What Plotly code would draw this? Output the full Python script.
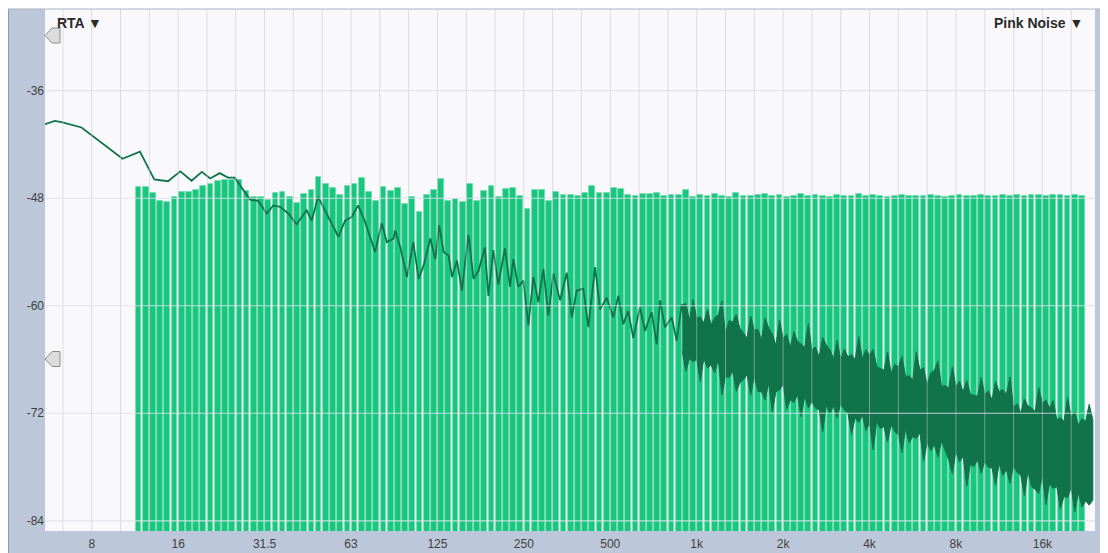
import numpy as np
import plotly.graph_objects as go

# ---------------- data ----------------
# 1/12-octave band levels (dB), first band index -78 relative to 1 kHz (132 bands)
band_first_index = -78
band_levels = [
    -46.7, -46.7, -47.45, -48.27, -48.42, -47.82, -47.3, -47.3, -47.08, -46.63,
    -46.45, -46.11, -45.96, -45.96, -45.96, -47.15, -47.82, -47.82, -48.2, -47.45,
    -47.34, -47.9, -48.5, -47.56, -47.08, -45.6, -46.41, -46.89, -47.64, -46.6,
    -46.45, -45.7, -47.34, -48.27, -46.71, -47.19, -46.82, -48.64, -47.82, -49.5,
    -47.64, -47.08, -45.85, -48.27, -48.12, -48.38, -46.45, -48.27, -47.19, -46.64,
    -47.83, -46.97, -46.82, -47.75, -49.24, -47.08, -47.08, -48.27, -47.34, -47.64,
    -47.64, -47.75, -47.45, -46.64, -47.45, -47.45, -46.82, -46.97, -47.64, -47.75,
    -47.53, -47.53, -47.45, -47.75, -47.64, -47.64, -47.08, -47.9,
    -47.6, -47.8, -47.5, -47.7, -47.9, -47.4, -47.7, -47.8, -47.6, -47.5,
    -47.8, -47.6, -47.9, -47.7, -47.5, -47.8, -47.6, -47.7, -47.9, -47.6,
    -47.8, -47.7, -47.5, -47.8, -47.6, -47.7, -47.9, -47.7, -47.6, -47.8,
    -47.7, -47.8, -47.6, -47.7, -47.9, -47.7, -47.6, -47.8, -47.7, -47.6,
    -47.7, -47.8, -47.6, -47.7, -47.6, -47.7, -47.6, -47.6, -47.7, -47.6,
    -47.6, -47.7, -47.6, -47.8,
]

# FFT trace (low / mid frequencies)
line_freq = [
    5.37, 5.81, 6.13, 7.20, 10.0, 11.5, 12.9, 14.4, 15.9, 17.4, 18.9, 20.2, 21.8, 23.3, 24.6,
    27.8, 29.7, 31.8, 33.5, 35.4, 37.8, 40.4, 43.8, 45.6, 48.0, 51.5, 56.5, 59.6, 62.8, 66.2,
    69.9, 75.8, 80.0, 83.3, 87.9, 89.1, 92.8, 97.9, 103, 107.5, 111.9, 118.1, 122.9, 126.8,
    131.3, 136.7, 140.5, 146.2, 152.2, 156.2, 160.4, 166.9, 173.8, 183.0, 188.0, 195.7, 203.7,
    214.9, 223.8, 229.7, 239.1, 249.0, 259.2, 269.8, 280.9, 292.4, 304.3, 316.8, 334.3, 352.7,
    367.2, 382.1, 402.9, 419.4, 442.6, 460.6, 485.9, 512.2, 533.2, 554.8, 577.6, 601.2, 634.4,
    660.7, 697.0, 725.5, 745.1, 775.5, 818.4, 851.8, 886.7, 934.9,
]
line_db = [
    -39.74, -39.36, -39.5, -40.1, -43.6, -42.8, -45.9, -46.1, -45.0, -46.05, -45.05, -45.8, -45.2, -45.7, -45.7,
    -48.15, -48.3, -49.7, -48.8, -48.97, -49.7, -50.9, -49.35, -50.5, -47.85, -49.7, -52.3, -50.5, -50.1, -48.8,
    -50.6, -54.0, -50.8, -52.9, -52.5, -51.6, -53.5, -56.8, -52.9, -57.0, -55.5, -52.5, -54.8, -51.0,
    -54.0, -54.4, -56.8, -54.95, -58.3, -55.1, -52.1, -57.0, -56.1, -53.5, -58.9, -53.8, -57.6,
    -53.6, -57.9, -54.8, -57.9, -57.2, -62.2, -56.8, -59.6, -55.9, -61.1, -56.4, -59.4, -56.3,
    -61.3, -58.3, -58.1, -62.4, -55.7, -60.4, -59.1, -61.3, -58.9, -62.05, -60.6, -63.6, -60.2,
    -62.8, -60.7, -64.3, -59.4, -62.4, -61.3, -63.9, -59.85, -63.6,
]

# dense high-frequency part of the trace: upper / lower edges
band_freq = [
    891, 944, 1000, 1059, 1122, 1189, 1260, 1335, 1414, 1498, 1587, 1682, 1782, 1888, 2000,
    2119, 2245, 2378, 2520, 2670, 2828, 2997, 3175, 3364, 3564, 3776, 4000, 4238, 4490, 4757,
    5040, 5339, 5657, 5993, 6350, 6727, 7127, 7551, 8000, 8476, 8980, 9514, 10079, 10679,
    11314, 11986, 12699, 13454, 14254, 15102, 16000, 16951, 17959, 19027, 20159, 21357,
    22627, 23973,
]
band_upper = [
    -59.9, -61.6, -61.4, -61.9, -62.1, -61.0, -63.1, -61.8, -62.5, -63.6, -62.7, -63.8, -62.5,
    -64.4, -63.6, -64.6, -64.0, -64.7, -64.9, -65.7, -64.4, -65.9, -66.0, -65.7, -66.0, -65.9,
    -65.5, -66.8, -67.2, -67.5, -66.8, -67.9, -68.3, -67.2, -68.8, -67.2, -69.0, -69.2, -69.0,
    -69.6, -69.9, -70.1, -69.9, -70.5, -69.6, -69.9, -71.4, -72.0, -71.2, -71.8, -70.9, -71.4,
    -72.7, -72.9, -72.4, -73.3, -72.9, -72.7,
]
band_lower = [
    -65.1, -65.9, -66.0, -65.9, -66.6, -66.0, -67.9, -67.3, -68.6, -67.7, -67.9, -69.6, -68.6,
    -69.6, -68.8, -70.5, -69.9, -70.1, -70.7, -71.6, -71.1, -71.2, -70.9, -72.0, -72.5, -72.2,
    -73.1, -72.9, -73.5, -73.3, -74.4, -73.8, -74.6, -74.2, -75.3, -75.5, -75.1, -77.2, -76.3,
    -76.8, -77.7, -77.2, -77.4, -78.1, -77.6, -78.3, -77.9, -78.9, -78.5, -80.5, -79.0, -79.8,
    -80.2, -81.3, -80.3, -80.9, -81.8, -81.7,
]
# spikes of the dense part, between the samples above
spike_freq = [
    917.0, 971.5, 1029.3, 1090.5, 1155.3, 1224.0, 1296.8, 1373.9, 1455.6, 1542.1, 1633.8,
    1731.0, 1834.0, 1943.0, 2058.5, 2180.9, 2310.6, 2448.0, 2593.6, 2747.8, 2911.2, 3084.3,
    3267.7, 3462.0, 3667.9, 3886.0, 4117.0, 4361.9, 4621.2, 4896.0, 5187.2, 5495.6, 5822.4,
    6168.6, 6535.4, 6924.0, 7335.8, 7772.0, 8234.1, 8723.8, 9242.5, 9792.1, 10374.4, 10991.3,
    11644.9, 12337.3, 13071.0, 13848.2, 14671.7, 15544.1, 16468.4, 17447.7, 18485.2, 19584.4,
    20749.0, 21982.8, 23290.0,
]
spike_upper = [
    -59.75, -59.3, -61.25, -60.4, -61.35, -59.45, -61.65, -60.95, -63.05, -61.15, -62.65,
    -61.35, -63.15, -61.6, -63.2, -62.9, -64.25, -62.0, -64.6, -63.55, -64.95, -63.85,
    -64.85, -65.45, -63.45, -64.9, -64.85, -67.0, -65.15, -66.55, -65.65, -67.8, -65.15,
    -66.9, -67.5, -66.2, -68.9, -66.8, -68.4, -68.35, -70.0, -68.0, -69.5, -68.45,
    -69.35, -67.95, -70.9, -70.4, -71.4, -69.15, -70.55, -70.55, -72.5, -70.25,
    -71.85, -72.6, -71.0,
]
spike_lower = [
    -67.3, -66.25, -68.45, -66.95, -67.5, -69.95, -68.0, -69.55, -68.25, -70.0, -69.55,
    -70.5, -71.9, -69.4, -71.55, -70.8, -72.4, -71.4, -71.45, -74.05, -72.05, -72.55,
    -71.65, -74.35, -73.05, -73.95, -76.1, -73.7, -75.2, -74.05, -76.4, -75.3, -74.8,
    -77.35, -76.2, -76.9, -76.25, -78.75, -77.45, -80.15, -77.95, -78.7, -78.05, -80.05,
    -78.95, -79.8, -78.6, -81.2, -80.2, -80.95, -82.2, -80.4, -82.65, -81.4,
    -83.0, -82.45, -82.25,
]

x_tick_freq = [7.8125, 15.625, 31.25, 62.5, 125, 250, 500, 1000, 2000, 4000, 8000, 16000]
x_tick_text = ["8", "16", "31.5", "63", "125", "250", "500", "1k", "2k", "4k", "8k", "16k"]
y_tick_vals = [-36, -48, -60, -72, -84]
x_range_hz = [5.37, 24400]
y_range = [-85.14, -26.88]

# ---------------- styling ----------------
BAR_GREEN = "#18c680"
BAR_EDGE = "#72dcb0"
DARK = "#10734a"
PANEL = "#bcc8d9"
PLOT_BG = "#f9f9fb"
FONT = "Liberation Sans, Arial, DejaVu Sans, sans-serif"

# band centres on the 1/12-octave grid (category positions)
k = np.arange(band_first_index, band_first_index + len(band_levels))
band_centres = 1000.0 * 2.0 ** ((k + 0.5) / 12.0)
floor = -95.0

fig = go.Figure()
fig.add_trace(go.Bar(
    x=np.log10(band_centres),
    y=np.array(band_levels) - floor,
    base=floor,
    width=np.log10(2) / 12 * 0.8,
    marker=dict(color=BAR_GREEN, line=dict(color=BAR_EDGE, width=0.8)),
    hoverinfo="skip",
))
fig.add_trace(go.Scatter(
    x=np.log10(line_freq), y=line_db, mode="lines",
    line=dict(color=DARK, width=1.8), hoverinfo="skip",
))

# dense part as a filled polygon between the jagged edges
all_f = np.array(band_freq + spike_freq)
all_u = np.array(band_upper + spike_upper)
all_l = np.array(band_lower + spike_lower)
order = np.argsort(all_f)
fx = np.log10(all_f[order])
poly_x = np.concatenate([fx, fx[::-1]])
poly_y = np.concatenate([all_u[order], all_l[order][::-1]])
fig.add_trace(go.Scatter(
    x=poly_x, y=poly_y, mode="lines", fill="toself",
    fillcolor=DARK, line=dict(color=DARK, width=1), hoverinfo="skip",
))

# ---------------- frame / decorations ----------------
# page is offset by the 8 px body margin; figure = 1100 x 545
W, H, L, R, T, B = 1100, 545, 37, 13, 1, 22
pw, ph = W - L - R, H - T - B
OFF = 8
def px(x):  # page x -> paper
    return (x - OFF - L) / pw
def py(y):  # page y -> paper
    return (H - B - (y - OFF)) / ph

shapes = []
third = 1000.0 * 2.0 ** (np.arange(-22, 14) / 3.0)
for f in third:
    shapes.append(dict(type="line", xref="x", yref="paper", x0=np.log10(f), x1=np.log10(f),
                       y0=0, y1=1, line=dict(color="rgba(195,197,208,0.55)", width=1), layer="above"))
for v in y_tick_vals:
    shapes.append(dict(type="line", xref="paper", yref="y", x0=0, x1=1, y0=v, y1=v,
                       line=dict(color="rgba(222,224,230,0.85)", width=1.2), layer="above"))

shapes += [
    dict(type="rect", xref="paper", yref="paper", x0=px(0), x1=0, y0=py(H + 20), y1=1,
         fillcolor=PANEL, line=dict(width=0), layer="below"),
    dict(type="rect", xref="paper", yref="paper", x0=px(0), x1=px(W + 20), y0=py(H + 20), y1=0,
         fillcolor=PANEL, line=dict(width=0), layer="below"),
    dict(type="rect", xref="paper", yref="paper", x0=1, x1=px(W + 20), y0=py(H + 20), y1=1,
         fillcolor=PANEL, line=dict(width=0), layer="below"),
    dict(type="line", xref="paper", yref="paper", x0=px(8), x1=px(W + 20), y0=1, y1=1,
         line=dict(color="#a9b2c0", width=1)),
    dict(type="line", xref="paper", yref="paper", x0=px(8.5), x1=px(8.5), y0=py(H + 20), y1=1,
         line=dict(color="#8e9aad", width=1)),
]
for cy in (35.5, 359):
    path = "M {a},{b} L {c},{d} L {e},{d} L {e},{f} L {c},{f} Z".format(
        a=px(45), b=py(cy), c=px(52), d=py(cy - 7.5), e=px(60), f=py(cy + 7.5))
    shapes.append(dict(type="path", xref="paper", yref="paper", path=path,
                       fillcolor="#dcdcdc", line=dict(color="#8c8c8c", width=1), layer="above"))

annotations = [
    dict(text="<b>RTA ▼</b>", xref="paper", yref="paper", x=px(55), y=py(23),
         xanchor="left", yanchor="middle", showarrow=False,
         font=dict(family=FONT, size=14, color="#2a2a2a")),
    dict(text="<b>Pink Noise ▼</b>", xref="paper", yref="paper", x=px(1085), y=py(23),
         xanchor="right", yanchor="middle", showarrow=False,
         font=dict(family=FONT, size=14, color="#2a2a2a")),
]

fig.update_layout(
    width=W, height=H, autosize=False,
    margin=dict(l=L, r=R, t=T, b=B, pad=0),
    paper_bgcolor="white", plot_bgcolor=PLOT_BG,
    showlegend=False, bargap=0,
    shapes=shapes, annotations=annotations,
    xaxis=dict(range=[np.log10(x_range_hz[0]), np.log10(x_range_hz[1])],
               tickvals=np.log10(x_tick_freq), ticktext=x_tick_text,
               showgrid=False, zeroline=False, showline=False, ticks="",
               ticklabelstandoff=4,
               tickfont=dict(family=FONT, size=12, color="#404040")),
    yaxis=dict(range=y_range, tickvals=y_tick_vals, ticktext=[str(v) for v in y_tick_vals],
               showgrid=False, zeroline=False, showline=False, ticks="",
               tickfont=dict(family=FONT, size=12, color="#404040")),
)

fig.write_html("out.html")
